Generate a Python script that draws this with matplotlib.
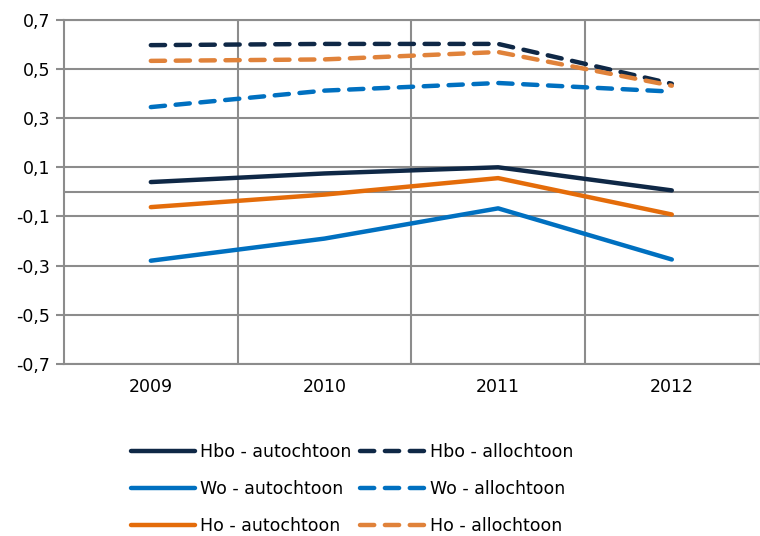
import matplotlib.pyplot as plt
from matplotlib.ticker import FuncFormatter

years = ['2009', '2010', '2011', '2012']

hbo_auto = [0.04, 0.075, 0.10, 0.006]
wo_auto = [-0.28, -0.19, -0.067, -0.275]
ho_auto = [-0.062, -0.011, 0.056, -0.092]
hbo_allo = [0.597, 0.602, 0.602, 0.44]
wo_allo = [0.345, 0.412, 0.443, 0.408]
ho_allo = [0.533, 0.539, 0.569, 0.432]

NAVY = '#0f2846'
BLUE = '#0070c0'
ORANGE = '#e46c0a'
ORANGE_LT = '#e0823a'
GRID = '#8c8c8c'

plt.rcParams['font.family'] = ['DejaVu Sans']

fig = plt.figure(figsize=(7.6, 5.36), dpi=100)
ax = fig.add_axes([0.0842, 0.321, 0.914, 0.642])

x = range(len(years))
series = [
    (hbo_auto, NAVY, '-', 'Hbo - autochtoon'),
    (wo_auto, BLUE, '-', 'Wo - autochtoon'),
    (ho_auto, ORANGE, '-', 'Ho - autochtoon'),
    (hbo_allo, NAVY, '--', 'Hbo - allochtoon'),
    (wo_allo, BLUE, '--', 'Wo - allochtoon'),
    (ho_allo, ORANGE_LT, '--', 'Ho - allochtoon'),
]
lines = {}
for vals, col, ls, lab in series:
    if ls == '-':
        ln, = ax.plot(x, vals, color=col, lw=3.2, solid_capstyle='round',
                      solid_joinstyle='round', label=lab, zorder=3)
    else:
        ln, = ax.plot(x, vals, color=col, lw=3.2, dashes=(3.2, 2.4),
                      dash_capstyle='round', dash_joinstyle='round', label=lab, zorder=3)
    lines[lab] = ln

ax.set_xlim(-0.5, 3.5)
ax.set_ylim(-0.7, 0.7)
ax.set_yticks([-0.7, -0.5, -0.3, -0.1, 0.1, 0.3, 0.5, 0.7])
ax.yaxis.set_major_formatter(FuncFormatter(lambda v, p: f'{v:.1f}'.replace('.', ',')))
ax.set_xticks(list(x))
ax.set_xticklabels(years)
ax.tick_params(axis='x', length=0, pad=10, labelsize=12.5)
ax.tick_params(axis='y', length=6, width=1.5, color=GRID, labelsize=12.5, pad=4)

ax.grid(axis='y', color=GRID, lw=1.5, zorder=1)
for b in [0.5, 1.5, 2.5]:
    ax.axvline(b, color=GRID, lw=1.5, zorder=1)
ax.axhline(0, color=GRID, lw=1.5, zorder=1)
for s in ax.spines.values():
    s.set_color(GRID)
    s.set_linewidth(1.5)
ax.spines['right'].set_color('#dddddd')
ax.spines['right'].set_linewidth(1)

order = ['Hbo - autochtoon', 'Hbo - allochtoon', 'Wo - autochtoon',
         'Wo - allochtoon', 'Ho - autochtoon', 'Ho - allochtoon']
# legend fills column-wise, so reorder for row layout
col_order = [order[0], order[2], order[4], order[1], order[3], order[5]]
fig.legend([lines[k] for k in col_order], col_order, loc='center',
           bbox_to_anchor=(0.463, 0.088), ncol=2, frameon=False, fontsize=12.5,
           handlelength=3.7, handletextpad=0.3, columnspacing=0.5, labelspacing=1.1)

fig.savefig('out.png', dpi=100)
